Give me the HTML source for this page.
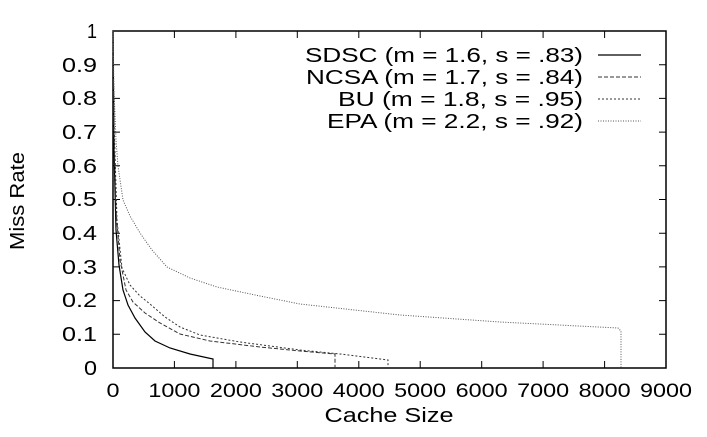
<!DOCTYPE html>
<html><head><style>body{margin:0;background:#fff}svg{display:block}</style></head><body>
<svg width="707" height="437" xmlns="http://www.w3.org/2000/svg" font-family="Liberation Sans, sans-serif">
<rect x="113" y="31" width="553" height="337" fill="none" stroke="#000" stroke-width="1.5"/>
<g stroke="#000" stroke-width="1">
<path d="M113,334.3h7M113,300.6h7M113,266.9h7M113,233.2h7M113,199.5h7M113,165.8h7M113,132.1h7M113,98.4h7M113,64.7h7M666,334.3h-7M666,300.6h-7M666,266.9h-7M666,233.2h-7M666,199.5h-7M666,165.8h-7M666,132.1h-7M666,98.4h-7M666,64.7h-7"/>
<path d="M174.4,368v-7M235.9,368v-7M297.3,368v-7M358.8,368v-7M420.2,368v-7M481.7,368v-7M543.1,368v-7M604.6,368v-7M174.4,31v7M235.9,31v7M297.3,31v7M358.8,31v7M420.2,31v7M481.7,31v7M543.1,31v7M604.6,31v7"/>
</g>
<g font-size="20" text-anchor="end" fill="#000" lengthAdjust="spacingAndGlyphs">
<text x="97" y="375" textLength="13" lengthAdjust="spacingAndGlyphs">0</text>
<text x="97" y="341" textLength="35" lengthAdjust="spacingAndGlyphs">0.1</text>
<text x="97" y="307" textLength="35" lengthAdjust="spacingAndGlyphs">0.2</text>
<text x="97" y="274" textLength="35" lengthAdjust="spacingAndGlyphs">0.3</text>
<text x="97" y="240" textLength="35" lengthAdjust="spacingAndGlyphs">0.4</text>
<text x="97" y="206" textLength="35" lengthAdjust="spacingAndGlyphs">0.5</text>
<text x="97" y="173" textLength="35" lengthAdjust="spacingAndGlyphs">0.6</text>
<text x="97" y="139" textLength="35" lengthAdjust="spacingAndGlyphs">0.7</text>
<text x="97" y="105" textLength="35" lengthAdjust="spacingAndGlyphs">0.8</text>
<text x="97" y="72" textLength="35" lengthAdjust="spacingAndGlyphs">0.9</text>
<text x="97" y="38" textLength="10" lengthAdjust="spacingAndGlyphs">1</text>
</g>
<g font-size="19" text-anchor="middle" fill="#000">
<text x="113" y="397" textLength="13" lengthAdjust="spacingAndGlyphs">0</text>
<text x="174.4" y="397" textLength="52" lengthAdjust="spacingAndGlyphs">1000</text>
<text x="235.9" y="397" textLength="52" lengthAdjust="spacingAndGlyphs">2000</text>
<text x="297.3" y="397" textLength="52" lengthAdjust="spacingAndGlyphs">3000</text>
<text x="358.8" y="397" textLength="52" lengthAdjust="spacingAndGlyphs">4000</text>
<text x="420.2" y="397" textLength="52" lengthAdjust="spacingAndGlyphs">5000</text>
<text x="481.7" y="397" textLength="52" lengthAdjust="spacingAndGlyphs">6000</text>
<text x="543.1" y="397" textLength="52" lengthAdjust="spacingAndGlyphs">7000</text>
<text x="604.6" y="397" textLength="52" lengthAdjust="spacingAndGlyphs">8000</text>
<text x="666" y="397" textLength="52" lengthAdjust="spacingAndGlyphs">9000</text>
<text x="389" y="422" font-size="20" textLength="129" lengthAdjust="spacingAndGlyphs">Cache Size</text>
<text transform="translate(24,201) rotate(-90)" font-size="20" textLength="98" lengthAdjust="spacingAndGlyphs">Miss Rate</text>
</g>
<g font-size="20" text-anchor="end" fill="#000">
<text x="583" y="62" textLength="278" lengthAdjust="spacingAndGlyphs">SDSC (m = 1.6, s = .83)</text>
<text x="583" y="84" textLength="277" lengthAdjust="spacingAndGlyphs">NCSA (m = 1.7, s = .84)</text>
<text x="583" y="106" textLength="245" lengthAdjust="spacingAndGlyphs">BU (m = 1.8, s = .95)</text>
<text x="583" y="128" textLength="256" lengthAdjust="spacingAndGlyphs">EPA (m = 2.2, s = .92)</text>
</g>
<g fill="none">
<path d="M598,55H641" stroke="#000" stroke-width="1.2"/>
<path d="M598,77H641" stroke="#333" stroke-width="1" stroke-dasharray="4,2"/>
<path d="M598,99H641" stroke="#333" stroke-width="1" stroke-dasharray="2,2"/>
<path d="M598,121H641" stroke="#555" stroke-width="1" stroke-dasharray="1,1.5"/>
<path d="M113,31L114,150L116,230L119,265L123,290L128,305L135,318L145,332L155,341L170,348L190,354L213,359L213,368" stroke="#000" stroke-width="1.2"/>
<path d="M113,31L114,130L116,210L120,260L126,290L133,302L145,313L160,323L180,334L210,341L260,347L300,351L335,354L335,368" stroke="#333" stroke-width="1" stroke-dasharray="4,2"/>
<path d="M113,31L114,120L117,220L122,268L130,285L140,296L150,304L165,317L180,327L200,335L240,342L300,350L340,354L388,360L388,368" stroke="#333" stroke-width="1" stroke-dasharray="2,2"/>
<path d="M113,31L114,90L116,140L118,166L123,200L130,216L140,233L152,250L167,267L190,278L217,287L260,296L300,304L400,315L500,322L618,328L621,331L621,368" stroke="#555" stroke-width="1" stroke-dasharray="1,1.5"/>
</g>
</svg>
</body></html>
